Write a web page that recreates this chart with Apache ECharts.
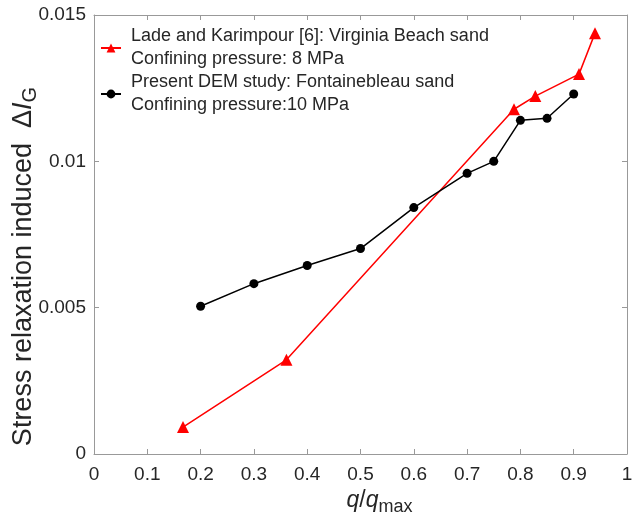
<!DOCTYPE html>
<html><head><meta charset="utf-8">
<script src="https://cdn.jsdelivr.net/npm/echarts@6/dist/echarts.min.js"></script>
<style>html,body{margin:0;padding:0;background:#fff}#c{width:632px;height:519px}</style>
</head><body><div id="c"></div>
<script>
const redName = 'Lade and Karimpour [6]: Virginia Beach sand\nConfining pressure: 8 MPa';
const blackName = 'Present DEM study: Fontainebleau sand\nConfining pressure:10 MPa';
const redX = [0.167, 0.361, 0.788, 0.828, 0.91, 0.94];
const redY = [0.00092, 0.00322, 0.01178, 0.01223, 0.01298, 0.01438];
const blackX = [0.2, 0.3, 0.4, 0.5, 0.6, 0.7, 0.75, 0.8, 0.85, 0.9];
const blackY = [0.00505, 0.00582, 0.00644, 0.00702, 0.00842, 0.00959, 0.0100, 0.0114, 0.01147, 0.0123];
const xTicks = [0, 0.1, 0.2, 0.3, 0.4, 0.5, 0.6, 0.7, 0.8, 0.9, 1];
const yTicks = [0, 0.005, 0.01, 0.015];

const font = 'Liberation Sans, Arial, sans-serif';
const axisCol = '#999999';
const txtCol = '#262626';
const chart = echarts.init(document.getElementById('c'));
function pairs(xs, ys){ return xs.map((x,i)=>[x, ys[i]]); }
const boxAxis = (extra) => Object.assign({
  axisLine:{show:true, onZero:false, lineStyle:{color:axisCol, width:1}},
  axisTick:{show:true, inside:true, length:5, lineStyle:{color:axisCol}},
  axisLabel:{show:false}, splitLine:{show:false}
}, extra);
chart.setOption({
  animation:false,
  backgroundColor:'#fff',
  grid:{left:94, right:5, top:15, bottom:65, outerBoundsMode:'none', containLabel:false},
  legend:{
    left:95, top:20, orient:'vertical', itemGap:0, itemWidth:20, itemHeight:11,
    textStyle:{fontFamily:font, fontSize:18, color:txtCol, lineHeight:23, padding:[0,0,0,5]},
    data:[{name:redName},{name:blackName}]
  },
  xAxis:[
    boxAxis({type:'value', min:0, max:1, interval:0.1, position:'bottom',
      axisLabel:{show:true, color:txtCol, fontFamily:font, fontSize:19, margin:11,
        formatter:v=>{const t=xTicks.find(a=>Math.abs(a-v)<1e-9);return t===undefined?'':String(t);}},
      name:'{i|q}{n|/}{i|q}{s|max}', nameLocation:'middle', nameGap:32, nameMoveOverlap:false,
      nameTextStyle:{padding:[0,0,0,38], rich:{
        i:{fontFamily:font, fontSize:23, fontStyle:'italic', color:txtCol},
        n:{fontFamily:font, fontSize:23, color:txtCol},
        s:{fontFamily:font, fontSize:18, color:txtCol, padding:[12,0,0,0]}
      }}}),
    boxAxis({type:'value', min:0, max:1, interval:0.1, position:'top'})
  ],
  yAxis:[
    boxAxis({type:'value', min:0, max:0.015, interval:0.005, position:'left',
      axisLabel:{show:true, color:txtCol, fontFamily:font, fontSize:19, margin:8,
        formatter:v=>{const t=yTicks.find(a=>Math.abs(a-v)<1e-12);return t===undefined?'':String(t);}},
      name:'{n|Stress relaxation induced  Δ}{i|I}{s|G}', nameLocation:'middle', nameGap:54, nameRotate:90,
      nameMoveOverlap:false,
      nameTextStyle:{padding:[0,64,0,0], rich:{
        i:{fontFamily:font, fontSize:27, fontStyle:'italic', color:txtCol},
        n:{fontFamily:font, fontSize:27, color:txtCol},
        s:{fontFamily:font, fontSize:20, color:txtCol, padding:[13,0,0,0]}
      }}}),
    boxAxis({type:'value', min:0, max:0.015, interval:0.005, position:'right'})
  ],
  series:[
    {name:redName, type:'line', data:pairs(redX, redY), color:'#ff0000',
      symbol:'triangle', symbolSize:12, lineStyle:{color:'#ff0000', width:1.5},
      itemStyle:{color:'#ff0000'}, z:3},
    {name:blackName, type:'line', data:pairs(blackX, blackY), color:'#000',
      symbol:'circle', symbolSize:9, lineStyle:{color:'#000', width:1.5},
      itemStyle:{color:'#000'}, z:4}
  ]
});
</script></body></html>
